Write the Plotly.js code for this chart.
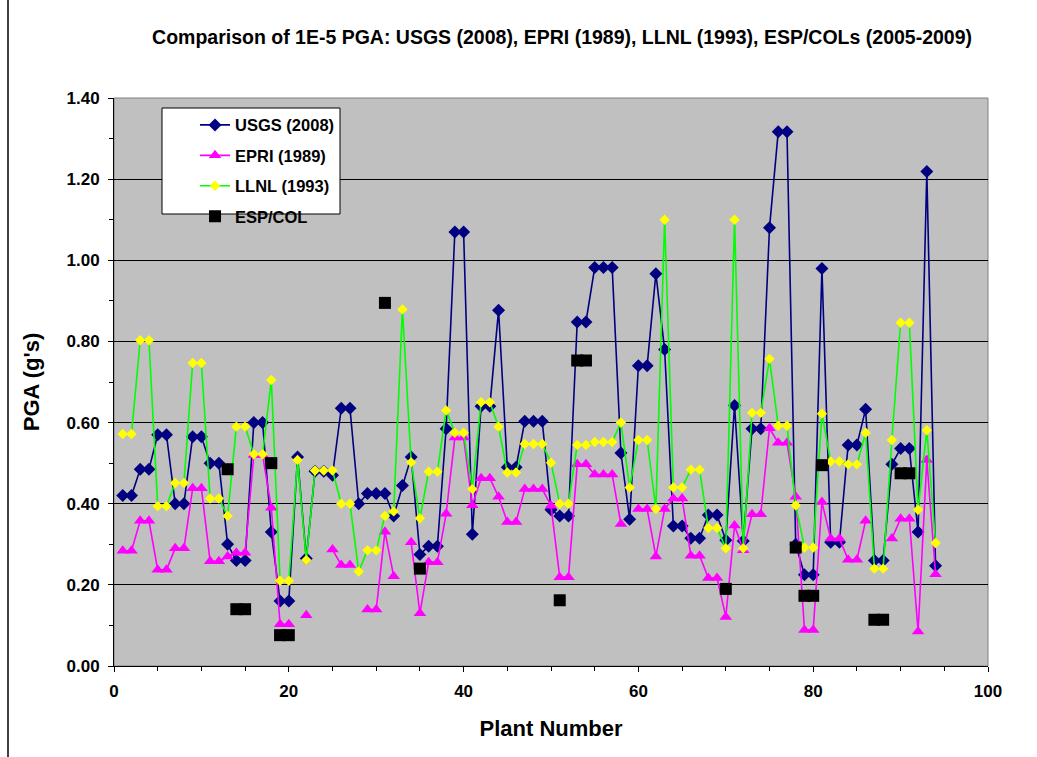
<!DOCTYPE html>
<html>
<head>
<meta charset="utf-8">
<script src="https://cdn.plot.ly/plotly-3.0.1.min.js"></script>
<style>html,body{margin:0;padding:0;background:#fff;}#chart{width:1037px;height:757px;}</style>
</head>
<body>
<div id="chart"></div>
<script>
// Plant numbers 1..94
const plants = [];
for (let i = 1; i <= 94; i++) plants.push(i);

const usgs = [
  0.42,0.42,0.485,0.485,0.57,0.57,0.40,0.40,0.565,0.565,
  0.50,0.50,0.30,0.26,0.26,0.60,0.60,0.33,0.16,0.16,
  0.515,0.265,0.48,0.48,0.47,0.635,0.635,0.40,0.425,0.425,
  0.425,0.37,0.445,0.515,0.275,0.295,0.295,0.585,1.07,1.07,
  0.325,0.64,0.64,0.877,0.49,0.49,0.603,0.603,0.603,0.385,
  0.37,0.37,0.848,0.848,0.982,0.982,0.982,0.525,0.362,0.74,
  0.74,0.967,0.78,0.345,0.345,0.315,0.315,0.372,0.372,0.31,
  0.642,0.308,0.585,0.585,1.08,1.317,1.317,0.30,0.225,0.225,
  0.98,0.305,0.305,0.545,0.545,0.633,0.26,0.26,0.497,0.536,
  0.536,0.33,1.219,0.247
];
const epri = [
  0.284,0.284,0.358,0.358,0.237,0.237,0.29,0.29,0.438,0.438,
  0.258,0.258,0.27,0.279,0.279,0.52,0.52,0.39,0.103,0.103,
  null,0.125,null,null,0.287,0.249,0.249,null,0.139,0.139,
  0.331,0.221,null,0.305,0.13,0.256,0.256,0.375,0.563,0.563,
  0.396,0.463,0.463,0.417,0.355,0.355,0.436,0.436,0.436,0.395,
  0.219,0.219,0.497,0.497,0.472,0.472,0.472,0.35,null,0.387,
  0.387,0.27,0.387,0.413,0.413,0.272,0.272,0.217,0.217,0.121,
  0.346,0.285,0.374,0.374,0.586,0.55,0.55,0.417,0.089,0.089,
  0.404,0.314,0.314,0.262,0.262,0.358,null,null,0.314,0.363,
  0.363,0.085,0.508,0.226
];
const llnl = [
  0.572,0.572,0.803,0.803,0.394,0.394,0.451,0.451,0.747,0.747,
  0.413,0.413,0.37,0.59,0.59,0.522,0.522,0.705,0.21,0.21,
  0.508,0.261,0.482,0.482,0.482,0.40,0.40,0.233,0.285,0.285,
  0.37,0.381,0.879,0.502,0.364,0.479,0.479,0.63,0.575,0.575,
  0.436,0.65,0.65,0.59,0.477,0.477,0.547,0.547,0.547,0.501,
  0.40,0.40,0.545,0.545,0.552,0.552,0.552,0.60,0.44,0.557,
  0.557,0.387,1.10,0.44,0.44,0.484,0.484,0.34,0.34,0.29,
  1.10,0.29,0.624,0.624,0.757,0.592,0.592,0.396,0.292,0.292,
  0.622,0.504,0.504,0.497,0.497,0.575,0.24,0.24,0.557,0.846,
  0.846,0.385,0.581,0.303
];
const espPlants = [13,14,15,18,19,20,31,35,51,53,54,70,78,79,80,81,87,88,90,91];
const espVals   = [0.485,0.14,0.14,0.50,0.076,0.076,0.895,0.24,0.162,0.753,0.753,0.19,0.292,0.173,0.173,0.495,0.114,0.114,0.475,0.475];

const seriesNames = ['USGS (2008)','EPRI (1989)','LLNL (1993)','ESP/COL'];
const titleText = 'Comparison of 1E-5 PGA: USGS (2008), EPRI (1989), LLNL (1993), ESP/COLs (2005-2009)';

const FONT = 'Arial, "Liberation Sans", sans-serif';
const b = s => '<b>' + s + '</b>';

const traces = [
  {x: plants, y: usgs, name: b(seriesNames[0]), type: 'scatter', mode: 'lines+markers',
   line: {color: '#000080', width: 1.6},
   marker: {symbol: 'diamond', size: 10, color: '#000080', line: {width: 0}},
   legendgroup: 'a'},
  {x: plants, y: epri, name: b(seriesNames[1]), type: 'scatter', mode: 'lines+markers',
   line: {color: '#FF00FF', width: 1.6},
   marker: {symbol: 'triangle-up', size: 11, color: '#FF00FF', line: {width: 0}},
   legendgroup: 'b'},
  {x: plants, y: llnl, name: b(seriesNames[2]), type: 'scatter', mode: 'lines+markers',
   line: {color: '#00FF00', width: 1.6},
   marker: {symbol: 'diamond', size: 8, color: '#FFFF00', line: {width: 0}},
   legendgroup: 'c'},
  {x: espPlants, y: espVals, name: b(seriesNames[3]), type: 'scatter', mode: 'markers',
   marker: {symbol: 'square', size: 12, color: '#000000', line: {width: 0}},
   legendgroup: 'd'}
];

const layout = {
  width: 1037, height: 757,
  margin: {l: 114, r: 49, t: 98, b: 91},
  paper_bgcolor: '#ffffff',
  plot_bgcolor: '#C0C0C0',
  font: {family: FONT, color: '#000000'},
  title: {text: b(titleText), font: {size: 19.5, family: FONT},
          x: 0.542, xanchor: 'center', y: 0.951, yanchor: 'middle'},
  showlegend: true,
  legend: {x: 0.0927, y: 0.983, xanchor: 'left', yanchor: 'top',
           bgcolor: 'rgba(0,0,0,0)', borderwidth: 0,
           font: {size: 16.5, family: FONT}, tracegroupgap: 6,
           traceorder: 'grouped'},
  xaxis: {
    range: [0, 100], dtick: 20, tick0: 0,
    showgrid: false, zeroline: false,
    showline: true, linecolor: '#000000', linewidth: 1,
    ticks: 'outside', ticklen: 5, tickcolor: '#000000',
    minor: {dtick: 5, ticks: 'outside', ticklen: 4, tickcolor: '#000000', showgrid: false},
    tickfont: {size: 17, family: FONT},
    ticklabelstandoff: 5,
    tickprefix: '<b>', ticksuffix: '</b>',
    title: {text: b('Plant Number'), font: {size: 22, family: FONT}, standoff: 20}
  },
  yaxis: {
    range: [0, 1.4], dtick: 0.2, tick0: 0, tickformat: '.2f',
    showgrid: true, gridcolor: '#000000', gridwidth: 1,
    zeroline: false,
    showline: true, linecolor: '#000000', linewidth: 1,
    ticks: 'outside', ticklen: 5, tickcolor: '#000000',
    minor: {dtick: 0.1, ticks: 'outside', ticklen: 4, tickcolor: '#000000', showgrid: false},
    tickfont: {size: 17, family: FONT},
    ticklabelstandoff: 5,
    tickprefix: '<b>', ticksuffix: '</b>',
    title: {text: b("PGA (g's)"), font: {size: 22, family: FONT}, standoff: 20}
  },
  shapes: [
    {type: 'rect', xref: 'paper', yref: 'paper', x0: 0, x1: 1, y0: 0, y1: 1,
     line: {color: '#808080', width: 1}, fillcolor: 'rgba(0,0,0,0)', layer: 'below'},
    {type: 'rect', xref: 'paper', yref: 'paper',
     x0: (162 - 114) / 874, x1: (340 - 114) / 874,
     y0: (666 - 214) / 568, y1: (666 - 108) / 568,
     line: {color: '#000000', width: 1}, fillcolor: '#ffffff', layer: 'above'},
    {type: 'line', xref: 'paper', yref: 'paper',
     x0: (8 - 114) / 874, x1: (8 - 114) / 874, y0: (666 - 757) / 568, y1: (666 - 0) / 568,
     line: {color: '#000000', width: 1.5}}
  ]
};

Plotly.newPlot('chart', traces, layout, {displayModeBar: false, staticPlot: true});
</script>
</body>
</html>
